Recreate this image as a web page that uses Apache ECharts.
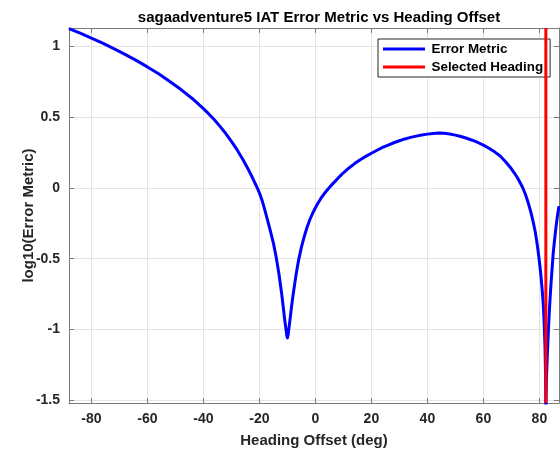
<!DOCTYPE html>
<html>
<head>
<meta charset="utf-8">
<script src="https://cdn.jsdelivr.net/npm/echarts@6/dist/echarts.min.js"></script>
<style>html,body{margin:0;padding:0;background:#fff}#c{width:560px;height:455px}</style>
</head>
<body>
<div id="c"></div>
<script>
const titleText = 'sagaadventure5 IAT Error Metric vs Heading Offset';
const xName = 'Heading Offset (deg)';
const yName = 'log10(Error Metric)';
const xTicks = [-80, -60, -40, -20, 0, 20, 40, 60, 80];
const yTicks = [-1.5, -1, -0.5, 0, 0.5, 1];
const heading = [-88, -84, -80, -76, -72, -68, -64, -60, -56, -52, -48, -44, -40, -38, -36, -34, -32, -30, -28, -26, -24, -23, -22, -21, -20, -19, -18, -17, -16, -15, -14, -13, -12, -11.5, -11, -10.5, -10.25, -10, -9.75, -9.5, -9, -8.5, -8, -7, -6, -5, -4, -3, -2, -1, 0, 1, 2, 3, 4, 5, 6, 8, 10, 12, 14, 16, 18, 20, 22, 24, 26, 28, 30, 32, 34, 36, 38, 40, 42, 44, 46, 48, 50, 52, 54, 56, 58, 60, 62, 64, 66, 68, 70, 71, 72, 73, 74, 75, 76, 77, 78, 78.5, 79, 79.5, 80, 80.5, 81, 81.4, 81.7, 82.0, 82.2, 82.3, 82.5, 82.9, 83.3, 83.7, 84.1, 84.5, 84.9, 85.4, 86, 86.5, 87];
const errorMetric = [1.126, 1.093, 1.059, 1.023, 0.984, 0.944, 0.901, 0.855, 0.806, 0.752, 0.695, 0.632, 0.560, 0.521, 0.480, 0.433, 0.384, 0.329, 0.270, 0.204, 0.132, 0.093, 0.052, 0.01, -0.035, -0.09, -0.16, -0.235, -0.31, -0.39, -0.49, -0.61, -0.755, -0.84, -0.925, -1.0, -1.04, -1.06, -1.04, -1.0, -0.92, -0.835, -0.76, -0.625, -0.51, -0.42, -0.345, -0.28, -0.225, -0.18, -0.14, -0.105, -0.073, -0.045, -0.02, 0.003, 0.025, 0.067, 0.107, 0.141, 0.172, 0.199, 0.223, 0.245, 0.266, 0.286, 0.303, 0.319, 0.333, 0.346, 0.357, 0.366, 0.374, 0.380, 0.385, 0.388, 0.386, 0.381, 0.373, 0.363, 0.351, 0.337, 0.321, 0.302, 0.28, 0.255, 0.225, 0.183, 0.135, 0.107, 0.077, 0.042, 0.003, -0.045, -0.105, -0.175, -0.26, -0.31, -0.37, -0.44, -0.52, -0.61, -0.72, -0.83, -0.95, -1.12, -1.32, -1.6, -1.35, -1.15, -0.97, -0.82, -0.69, -0.58, -0.47, -0.37, -0.265, -0.19, -0.129];
const selectedHeading = [82.3, 82.3];
const selectedSpan = [-1.52, 1.13];

const xMin = -88, xMax = 87, yMin = -1.52, yMax = 1.13;
const font = 'Liberation Sans, Arial, Helvetica, sans-serif';
const axisCol = '#7a7a7a';
const txtCol = '#262626';
const lineIcon = 'path://M0,0L0,0M0,6L45,6L45,9L0,9ZM45,15L45,15';

const chart = echarts.init(document.getElementById('c'), null, {renderer: 'canvas'});
const baseX = {
  type: 'value', min: xMin, max: xMax,
  axisLine: {show: true, onZero: false, lineStyle: {color: axisCol, width: 1}},
  axisTick: {show: true, inside: true, length: 5, customValues: xTicks, lineStyle: {color: axisCol}},
  splitLine: {show: false}
};
const baseY = {
  type: 'value', min: yMin, max: yMax,
  axisLine: {show: true, onZero: false, lineStyle: {color: axisCol, width: 1}},
  axisTick: {show: true, inside: true, length: 5, customValues: yTicks, lineStyle: {color: axisCol}},
  splitLine: {show: false}
};
chart.setOption({
  animation: false,
  backgroundColor: '#fff',
  title: {
    text: titleText, left: 314, top: 5, textAlign: 'center',
    textStyle: {fontFamily: font, fontWeight: 'bold', fontSize: 15, color: '#000'}
  },
  grid: {left: 69, right: 1, top: 28, bottom: 52, containLabel: false},
  legend: {
    orient: 'vertical', left: 378, top: 39, z: 4,
    padding: [3, 7, 3, 5], itemGap: 4, itemWidth: 45, itemHeight: 14,
    backgroundColor: '#fff', borderColor: '#262626', borderWidth: 1, borderRadius: 0,
    textStyle: {fontFamily: font, fontWeight: 'bold', fontSize: 13.4, color: '#000'},
    data: [
      {name: 'Error Metric', icon: lineIcon, itemStyle: {color: '#0000ff'}},
      {name: 'Selected Heading', icon: lineIcon, itemStyle: {color: '#ff0000'}}
    ]
  },
  xAxis: [
    Object.assign({}, baseX, {
      position: 'bottom',
      name: xName, nameLocation: 'middle', nameGap: 30, nameMoveOverlap: false,
      nameTextStyle: {fontFamily: font, fontWeight: 'bold', fontSize: 15, color: txtCol},
      axisLabel: {show: true, customValues: xTicks, margin: 9, fontFamily: font, fontWeight: 'bold', fontSize: 14, color: txtCol},
      splitLine: {show: true, lineStyle: {color: '#e3e3e3', width: 1}}
    }),
    Object.assign({}, baseX, {position: 'top', axisLabel: {show: false}})
  ],
  yAxis: [
    Object.assign({}, baseY, {
      position: 'left',
      name: yName, nameLocation: 'middle', nameGap: 33, nameRotate: 90, nameMoveOverlap: false,
      nameTextStyle: {fontFamily: font, fontWeight: 'bold', fontSize: 15, color: txtCol},
      axisLabel: {show: true, customValues: yTicks, margin: 9, fontFamily: font, fontWeight: 'bold', fontSize: 14, color: txtCol},
      splitLine: {show: true, lineStyle: {color: '#e3e3e3', width: 1}}
    }),
    Object.assign({}, baseY, {position: 'right', axisLabel: {show: false}})
  ],
  series: [
    {
      name: 'Error Metric', type: 'line', xAxisIndex: 0, yAxisIndex: 0,
      data: heading.map((h, i) => [h, errorMetric[i]]),
      showSymbol: false, symbol: 'none', clip: true, smooth: false,
      lineStyle: {color: '#0000ff', width: 3, join: 'round'}, itemStyle: {color: '#0000ff'}
    },
    {
      name: 'Selected Heading', type: 'line', xAxisIndex: 0, yAxisIndex: 0, z: 10,
      data: selectedHeading.map((h, i) => [h, selectedSpan[i]]),
      showSymbol: false, symbol: 'none', clip: true,
      lineStyle: {color: '#ff0000', width: 3}, itemStyle: {color: '#ff0000'}
    }
  ]
});
</script>
</body>
</html>
